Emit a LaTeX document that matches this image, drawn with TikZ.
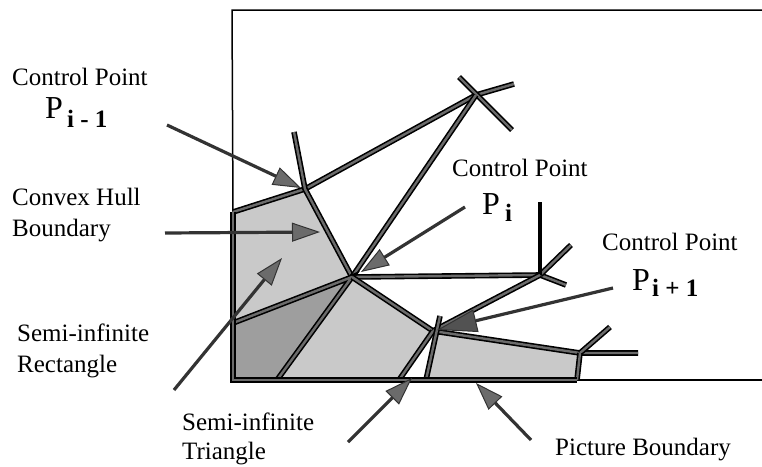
\documentclass[tikz,border=0pt]{standalone}
\usepackage{fontspec}
\setmainfont{Liberation Serif}
\usetikzlibrary{arrows.meta}
\begin{document}
\begin{tikzpicture}[x=1pt,y=-1pt,
  lbl/.style={anchor=base west, inner sep=0pt, font=\fontsize{25}{28}\selectfont},
  pbig/.style={anchor=base west, inner sep=0pt, font=\fontsize{32}{34}\selectfont},
  psub/.style={anchor=base west, inner sep=0pt, font=\fontsize{25}{28}\selectfont\bfseries},
  ve/.style={draw=black, double=black!58, double distance=2.4pt, line width=1.6pt},
  frame/.style={draw=black, line width=1.5pt},
  pointer/.style={draw=black!80, line width=3.2pt,
    -{Triangle[length=28pt,width=19pt,fill=black!58,line width=1pt]}},
  bigpointer/.style={draw=black!80, line width=3.2pt,
    -{Triangle[length=40pt,width=23pt,fill=black!68,line width=1pt]}},
  lightreg/.style={fill=black!21},
  darkreg/.style={fill=black!38}]
\useasboundingbox (0,0) rectangle (762,466);
% points
\coordinate (Pm) at (305,189);
\coordinate (Pi) at (352,277);
\coordinate (Pp) at (433,331);
\coordinate (X) at (476,95);
\coordinate (Xr) at (514,84);
\coordinate (Xa) at (459,77);
\coordinate (Xb) at (512,130);
\coordinate (Ptop) at (294,132);
\coordinate (J1) at (540,275);
\coordinate (J1r) at (566,285);
\coordinate (J1u) at (571,245);
\coordinate (J1t) at (540,202);
\coordinate (J2) at (580,353);
\coordinate (J2r) at (638,353);
\coordinate (J2u) at (610,327);
\coordinate (HL) at (233,212);
\coordinate (HM) at (233,323);
\coordinate (BL) at (233,380);
\coordinate (BR) at (577,380);
\coordinate (B1) at (277,380);
\coordinate (L1b) at (399,380);
\coordinate (L2t) at (440,316);
\coordinate (L2m) at (437,331);
\coordinate (L2b) at (426,380);
\coordinate (FTL) at (232,10);
\coordinate (FTR) at (762,10);
\coordinate (FBR) at (762,380);
% regions
\fill[lightreg] (HL)--(Pm)--(Pi)--(HM)--cycle;
\fill[darkreg] (HM)--(Pi)--(B1)--(BL)--cycle;
\fill[lightreg] (Pi)--(Pp)--(L1b)--(B1)--cycle;
\fill[lightreg] (L2m)--(J2)--(BR)--(L2b)--cycle;
% picture boundary
\draw[frame] (HL) -- (FTL) -- (FTR);
\draw[frame] (BR) -- (FBR);
% edges
\draw[ve] (HL) -- (Pm) -- (X) -- (Xr);
\draw[ve] (Xa) -- (Xb);
\draw[ve] (Ptop) -- (Pm) -- (Pi);
\draw[ve] (Pi) -- (X);
\draw[ve] (HM) -- (Pi) -- (B1);
\draw[ve] (Pi) -- (J1) -- (J1r);
\draw[ve] (J1) -- (J1u);
\draw[draw=black, line width=3.2pt] (J1) -- (J1t);
\draw[ve] (Pi) -- (Pp) -- (J2) -- (J2r);
\draw[ve] (Pp) -- (J1);
\draw[ve] (J2) -- (J2u);
\draw[ve] (J2) -- (BR);
\draw[ve] (Pp) -- (L1b);
\draw[ve] (L2t) -- (L2b);
\draw[ve] (HL) -- (BL) -- (BR);
% labels
\node[lbl] (cp1) at (12,85) {Control Point};
\node[pbig] (p1) at (45,118) {P};
\node[psub] (p1s) at (67,127) {i - 1};
\node[lbl] (chb1) at (12,205) {Convex Hull};
\node[lbl] (chb2) at (12,236) {Boundary};
\node[lbl] (sir1) at (17,341) {Semi-infinite};
\node[lbl] (sir2) at (17,372) {Rectangle};
\node[lbl] (cp2) at (452,176) {Control Point};
\node[pbig] (p2) at (482,214) {P};
\node[psub] (p2s) at (505,221) {i};
\node[lbl] (cp3) at (602,250) {Control Point};
\node[pbig] (p3) at (632,290) {P};
\node[psub] (p3s) at (652,296) {i + 1};
\node[lbl] (sit1) at (182,430) {Semi-infinite};
\node[lbl] (sit2) at (182,459) {Triangle};
\node[lbl] (pb) at (555,455) {Picture Boundary};
% pointers
\coordinate (a1s) at (167,125); \coordinate (a1t) at (301,188);
\coordinate (a2s) at (165,233); \coordinate (a2t) at (320,232);
\coordinate (a3s) at (174,390); \coordinate (a3t) at (282,258);
\coordinate (a4s) at (465,207); \coordinate (a4t) at (361,272);
\coordinate (a5s) at (613,288); \coordinate (a5t) at (437,330);
\coordinate (a6s) at (348,442); \coordinate (a6t) at (412,378);
\coordinate (a7s) at (531,440); \coordinate (a7t) at (476,383);
\draw[pointer] (a1s) -- (a1t);
\draw[pointer] (a2s) -- (a2t);
\draw[pointer] (a3s) -- (a3t);
\draw[pointer] (a4s) -- (a4t);
\draw[bigpointer] (a5s) -- (a5t);
\draw[pointer] (a6s) -- (a6t);
\draw[pointer] (a7s) -- (a7t);
\end{tikzpicture}
\end{document}
